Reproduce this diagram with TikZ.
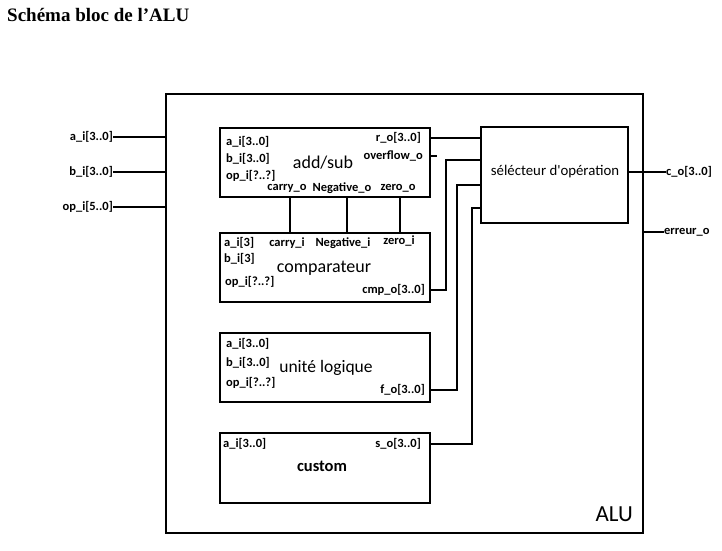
\documentclass[tikz,border=0pt]{standalone}
\usepackage{fontspec}
\newfontfamily\calib{Carlito}
\newfontfamily\titlefont{Liberation Serif}
\usetikzlibrary{positioning}

\tikzset{
  blk/.style={draw, line width=1.8pt, anchor=north west, inner sep=0pt},
  wire/.style={line width=2.8pt},
  port/.style={font=\calib\bfseries\fontsize{12.5}{14}\selectfont, inner sep=0pt},
  bname/.style={font=\calib\fontsize{18}{21}\selectfont, inner sep=0pt},
}

\begin{document}
\begin{tikzpicture}[x=1pt, y=-1pt]
  \useasboundingbox (0,0) rectangle (722,550);
  \node[font=\titlefont\bfseries\fontsize{19}{22}\selectfont, anchor=west, inner sep=0pt] (titre) at (7,15) {Schéma bloc de l’ALU};

  % boites
  \node[blk, line width=2.4pt, minimum width=477pt, minimum height=439pt] (alu) at (165,93) {};
  \node[blk, minimum width=210pt, minimum height=69pt] (addsub) at (219,127) {};
  \node[blk, minimum width=210pt, minimum height=69pt] (comp) at (219,232) {};
  \node[blk, minimum width=210pt, minimum height=69pt] (logic) at (219,332) {};
  \node[blk, minimum width=210pt, minimum height=70pt] (custom) at (219,432) {};
  \node[blk, line width=2.4pt, minimum width=147pt, minimum height=96pt] (sel) at (480,126) {};

  \node[bname, anchor=east, font=\calib\fontsize{23}{26}\selectfont] (alulbl) at (633,514) {ALU};
  \node[bname] (addsubT) at (323,163) {add/sub};
  \node[bname] (compT) at (324,268) {comparateur};
  \node[bname, font=\calib\fontsize{17.5}{20}\selectfont] (logicT) at (326,368) {unité logique};
  \node[bname, font=\calib\bfseries\fontsize{16.5}{20}\selectfont] (customT) at (322,466) {custom};
  \node[bname, font=\calib\fontsize{14.8}{18}\selectfont] (selT) at (555,172) {sélécteur d'opération};

  % entrees de l'ALU
  \foreach \nm/\y/\t in {ina/137/{a\_i[3..0]}, inb/172/{b\_i[3..0]}, inop/207/{op\_i[5..0]}} {
      \node[port, anchor=east] (\nm) at (113,\y) {\t};
      \draw[wire] (\nm.east) -- (alu.west |- \nm.east);
  }

  % ports add/sub
  \node[port, anchor=west] (addA) at (226,142) {a\_i[3..0]};
  \node[port, anchor=west] (addB) at (226,159) {b\_i[3..0]};
  \node[port, anchor=west] (addOp) at (226,176) {op\_i[?..?]};
  \node[port] (carryO) at (287,188) {carry\_o};
  \node[port] (negO) at (342,188) {Negative\_o};
  \node[port] (zeroO) at (398,188) {zero\_o};
  \node[port, anchor=east] (rO) at (421,138) {r\_o[3..0]};
  \node[port, anchor=east] (ovfO) at (423,156) {overflow\_o};

  % ports comparateur
  \node[port, anchor=west] (cmpA) at (224,243) {a\_i[3]};
  \node[port, anchor=west] (cmpB) at (224,259) {b\_i[3]};
  \node[port, anchor=west] (cmpOp) at (225,282) {op\_i[?..?]};
  \node[port] (carryI) at (287,243) {carry\_i};
  \node[port] (negI) at (343,243) {Negative\_i};
  \node[port] (zeroI) at (399,241) {zero\_i};
  \node[port, anchor=east] (cmpO) at (425,290) {cmp\_o[3..0]};

  % ports unite logique
  \node[port, anchor=west] (logA) at (226,344) {a\_i[3..0]};
  \node[port, anchor=west] (logB) at (226,363) {b\_i[3..0]};
  \node[port, anchor=west] (logOp) at (226,383) {op\_i[?..?]};
  \node[port, anchor=east] (fO) at (425,390) {f\_o[3..0]};

  % ports custom
  \node[port, anchor=west] (cusA) at (223,444) {a\_i[3..0]};
  \node[port, anchor=east] (sO) at (421,444) {s\_o[3..0]};

  % sorties
  \node[port, anchor=west] (cO) at (666,172) {c\_o[3..0]};
  \node[port, anchor=west] (errO) at (664,232) {erreur\_o};

  % fils
  \foreach \a/\dx in {carryO/3, negO/5, zeroO/2} {
      \draw[wire] ([xshift=\dx]addsub.south -| \a) -- ([xshift=\dx]comp.north -| \a);
  }
  \draw[wire] (addsub.east |- rO) -- (sel.west |- rO);
  \draw[wire] (addsub.east |- ovfO) -- ++(6,0);
  \draw[wire] (comp.east |- cmpO) -| (446,160) -- (sel.west |- 0,160);
  \draw[wire] (logic.east |- fO) -| (457,185) -- (sel.west |- 0,185);
  \draw[wire] (custom.east |- sO) -| (472,208) -- (sel.west |- 0,208);
  \draw[wire] (sel.east |- cO) -- (cO.west);
  \draw[wire] (alu.east |- errO) -- (errO.west);
\end{tikzpicture}
\end{document}
